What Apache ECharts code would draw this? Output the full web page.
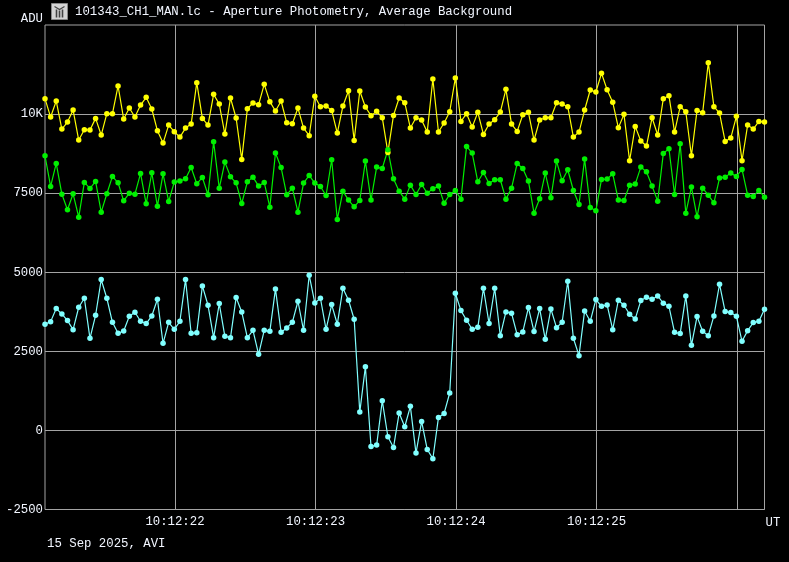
<!DOCTYPE html>
<html>
<head>
<meta charset="utf-8">
<style>html,body{margin:0;padding:0;background:#000}#c{width:789px;height:562px}</style>
<script src="https://cdn.jsdelivr.net/npm/echarts@6/dist/echarts.min.js"></script>
</head>
<body>
<div id="c"></div>
<script>
const frameMs = [75,115,155,195,235,275,315,355,395,435,475,515,555,595,635,675,715,755,795,835,875,915,955,995,1035,1075,1115,1155,1195,1235,1275,1315,1355,1395,1435,1475,1515,1555,1595,1635,1675,1715,1755,1795,1835,1875,1915,1955,1995,2035,2075,2115,2155,2195,2235,2275,2315,2355,2395,2435,2475,2515,2555,2595,2635,2675,2715,2755,2795,2835,2875,2915,2955,2995,3035,3075,3115,3155,3195,3235,3275,3315,3355,3395,3435,3475,3515,3555,3595,3635,3675,3715,3755,3795,3835,3875,3915,3955,3995,4035,4075,4115,4155,4195,4235,4275,4315,4355,4395,4435,4475,4515,4555,4595,4635,4675,4715,4755,4795,4835,4875,4915,4955,4995,5035,5075,5115,5155,5195];
const yellowValues = [10487,9906,10413,9527,9748,10128,9179,9506,9495,9864,9337,10012,10012,10888,9843,10191,9906,10286,10529,10160,9474,9084,9653,9442,9273,9558,9685,10993,9864,9653,10624,10318,9368,10508,9875,8567,10170,10350,10297,10940,10392,10096,10413,9727,9695,10191,9558,9316,10561,10234,10255,10117,9400,10255,10740,9168,10729,10223,9949,10086,9885,8788,9959,10508,10360,9558,9885,9812,9432,11109,9432,9717,10075,11141,9769,10012,9590,10054,9358,9685,9822,10065,10782,9685,9453,9980,10054,9179,9812,9885,9885,10360,10318,10234,9273,9432,10128,10761,10698,11289,10772,10371,9569,9991,8524,9611,9147,8989,9885,9337,10487,10582,9432,10234,10075,8683,10117,10044,11626,10234,10033,9136,9242,9928,8524,9653,9527,9769,9748];
const greenValues = [8683,7712,8440,7469,6974,7480,6741,7839,7649,7870,6900,7480,8029,7828,7258,7501,7469,8124,7163,8145,7090,8113,7237,7849,7881,7955,8313,7796,7997,7448,9126,7659,8482,8018,7828,7174,7860,8007,7723,7839,7058,8767,8313,7448,7659,6900,7818,8060,7818,7712,7427,8556,6668,7564,7280,7069,7269,8514,7280,8324,8282,8873,7955,7564,7311,7754,7459,7775,7501,7638,7723,7185,7459,7585,7311,8978,8767,7860,8155,7807,7923,7923,7311,7659,8440,8282,7881,6868,7322,8134,7353,8514,7891,8240,7585,7142,8577,7047,6942,7934,7944,8113,7280,7269,7754,7786,8324,8176,7723,7248,8757,8904,7459,9062,6868,7691,6752,7659,7438,7195,7976,8007,8134,8029,8250,7438,7396,7585,7374];
const cyanValues = [3355,3439,3851,3682,3471,3186,3893,4178,2912,3640,4769,4178,3418,3070,3144,3608,3735,3450,3376,3619,4146,2754,3418,3197,3450,4769,3070,3091,4568,3956,2933,4009,2975,2933,4199,3745,2933,3165,2405,3165,3133,4473,3102,3239,3418,4083,3165,4906,4030,4178,3197,3977,3355,4494,4115,3513,580,2015,-506,-464,939,-200,-538,549,116,760,-717,285,-601,-897,411,538,1182,4336,3787,3482,3197,3260,4494,3376,4494,2996,3745,3703,3028,3112,3882,3123,3851,2880,3840,3249,3418,4716,2912,2363,3777,3450,4136,3925,3967,3186,4115,3956,3671,3524,4104,4209,4146,4252,4020,3925,3102,3060,4252,2690,3598,3133,2996,3619,4621,3756,3724,3608,2817,3154,3408,3450,3830];
const secondTicks = [1000,2000,3000,4000,5000];
const secondLabels = ['10:12:22','10:12:23','10:12:24','10:12:25',''];
const yTicks = [-2500,0,2500,5000,7500,10000];
const titleText = '101343_CH1_MAN.lc - Aperture Photometry, Average Background';
const footerText = '15 Sep 2025, AVI';

const FONT = '"Liberation Mono", monospace';
const GRID = '#a4a4a4';
const TXT = '#f2f6ff';
const pairs = vals => vals.map((v, i) => [frameMs[i], v]);
const mk = (vals, color) => ({
  type: 'line', data: pairs(vals), symbol: 'circle', symbolSize: 5.5, showSymbol: true,
  showAllSymbol: true, lineStyle: {color, width: 1.2}, itemStyle: {color}, animation: false, silent: true
});
const chart = echarts.init(document.getElementById('c'), null, {renderer: 'canvas'});
chart.setOption({
  backgroundColor: '#000',
  animation: false,
  textStyle: {fontFamily: FONT},
  grid: {left: 45, right: 24.5, top: 25, bottom: 52.5, show: true, borderColor: GRID, borderWidth: 1, backgroundColor: 'transparent'},
  xAxis: {
    type: 'value', min: 75, max: 5195, 
    name: 'UT', nameLocation: 'end', nameGap: 1,
    nameTextStyle: {color: TXT, fontFamily: FONT, fontSize: 12.3, verticalAlign: 'top', padding: [7, 0, 0, 0]},
    axisLine: {show: false, onZero: false}, 
    axisTick: {show: false, customValues: secondTicks},
    axisLabel: {show: true, customValues: secondTicks, color: TXT, fontFamily: FONT, fontSize: 12.3, margin: 6,
      formatter: v => secondLabels[secondTicks.indexOf(v)] || ''},
    splitLine: {show: true, lineStyle: {color: GRID, width: 1}}
  },
  yAxis: {
    type: 'value', min: -2500, max: 12816,
    name: 'ADU', nameLocation: 'end', nameGap: 0,
    nameTextStyle: {color: TXT, fontFamily: FONT, fontSize: 12.3, align: 'right', padding: [0, 2, 0, 0]},
    axisLine: {show: false, onZero: false},
    axisTick: {show: false, customValues: yTicks},
    axisLabel: {color: TXT, fontFamily: FONT, fontSize: 12.3, margin: 2, customValues: yTicks,
      formatter: v => v === 10000 ? '10K' : String(v)},
    splitLine: {show: true, lineStyle: {color: GRID, width: 1}}
  },
  series: [mk(yellowValues, '#ffff00'), mk(greenValues, '#00f000'), mk(cyanValues, '#80ffff')],
  graphic: [
    {type: 'text', left: 75, top: 6, style: {text: titleText, fill: TXT, font: '12.35px ' + FONT}},
    {type: 'text', left: 47, top: 538, style: {text: footerText, fill: TXT, font: '12.35px ' + FONT}},
    {type: 'group', left: 51, top: 3, children: [
      {type: 'rect', shape: {x: 0, y: 0, width: 16, height: 16}, style: {fill: '#d4d4d4', stroke: '#888', lineWidth: 1}},
      {type: 'polyline', shape: {points: [[3,3],[8,6],[13,3]]}, style: {stroke: '#444', fill: 'none', lineWidth: 1.2}},
      {type: 'line', shape: {x1: 5, y1: 6, x2: 5, y2: 14}, style: {stroke: '#444', lineWidth: 1.6}},
      {type: 'line', shape: {x1: 8, y1: 7, x2: 8, y2: 14}, style: {stroke: '#444', lineWidth: 1.6}},
      {type: 'line', shape: {x1: 11, y1: 6, x2: 11, y2: 14}, style: {stroke: '#444', lineWidth: 1.6}}
    ]}
  ]
});
</script>
</body>
</html>
